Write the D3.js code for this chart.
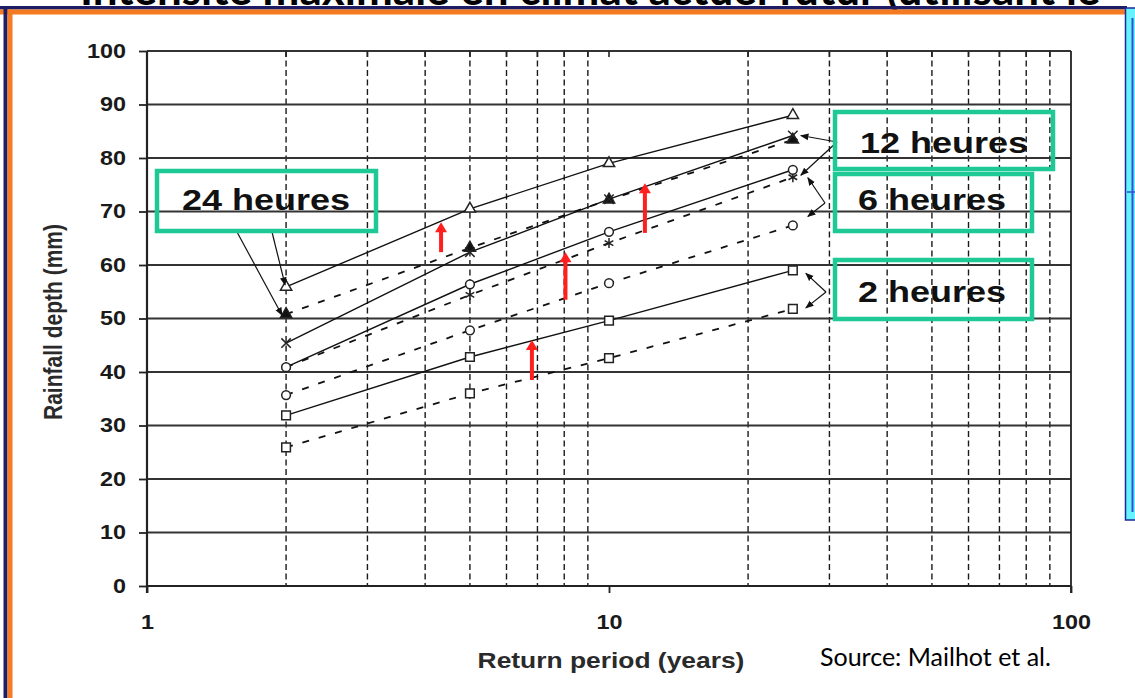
<!DOCTYPE html>
<html><head><meta charset="utf-8">
<script src="https://cdn.jsdelivr.net/npm/d3@7"></script>
<style>body{margin:0;background:#fff;overflow:hidden}svg{display:block}</style>
</head><body>
<svg id="c" width="1135" height="698"></svg>
<script>
// ---------- data ----------
const periods = [2, 5, 10, 25];
const future24  = [55.9, 70.5, 79.0, 88.0];
const present24 = [50.8, 63.2, 72.2, 83.4];
const future12  = [45.4, 62.4, 72.3, 84.2];
const present12 = [40.9, 54.4, 64.1, 76.4];
const future6   = [40.9, 56.4, 66.2, 77.8];
const present6  = [35.7, 47.8, 56.6, 67.4];
const future2   = [31.9, 42.8, 49.6, 59.0];
const present2  = [25.9, 36.0, 42.6, 51.8];
const durationLabels = ["24 heures", "12 heures", "6 heures", "2 heures"];
const yTicks = [0, 10, 20, 30, 40, 50, 60, 70, 80, 90, 100];
const xTicks = [1, 10, 100];
const xMinor = [2, 3, 4, 5, 6, 7, 8, 9, 20, 30, 40, 50, 60, 70, 80, 90];
const redArrowT    = [4.33, 6.81, 8.05, 11.96];
const redArrowFrom = [62.4, 38.5, 53.5, 66.0];
const redArrowTo   = [68.0, 46.0, 62.4, 75.3];
const titleText = "Intensité maximale en climat actuel futur (utilisant le";
const xTitle = "Return period (years)";
const yTitle = "Rainfall depth (mm)";
const sourceText = "Source: Mailhot et al.";

// ---------- setup ----------
const svg = d3.select("#c");
const x = d3.scaleLog().domain([1, 100]).range([147, 1071]);
const y = d3.scaleLinear().domain([0, 100]).range([586, 51]);
const AX = "Liberation Sans, Arial, sans-serif";

// slide frame (title partly hidden above the frame, as in the reference)
svg.append("text").attr("x", 80).attr("y", 5).attr("font-family", "Lato, sans-serif")
  .attr("font-weight", 700).attr("font-size", 44).attr("fill", "#000").text(titleText);
svg.append("rect").attr("x", 0).attr("y", 6).attr("width", 1127).attr("height", 3.5).attr("fill", "#1d1d66");
svg.append("rect").attr("x", 0).attr("y", 9.5).attr("width", 1127).attr("height", 5).attr("fill", "#f47b22");
svg.append("rect").attr("x", 3.5).attr("y", 6).attr("width", 4).attr("height", 692).attr("fill", "#1d1d66");
svg.append("rect").attr("x", 7.5).attr("y", 9.5).attr("width", 5).attr("height", 689).attr("fill", "#f47b22");
svg.append("rect").attr("x", 1125.5).attr("y", 8).attr("width", 11).attr("height", 512)
  .attr("fill", "#66f3ff").attr("stroke", "#1b2a9a").attr("stroke-width", 1.5);
svg.append("line").attr("x1", 1132.5).attr("x2", 1132.5).attr("y1", 18).attr("y2", 512)
  .attr("stroke", "#3350d0").attr("stroke-width", 2);
svg.append("line").attr("x1", 1127).attr("x2", 1135).attr("y1", 192).attr("y2", 192)
  .attr("stroke", "#3350d0").attr("stroke-width", 1.5);

const plot = svg.append("g");

// gridlines
plot.selectAll(".vg").data(xMinor).join("line")
  .attr("x1", d => x(d)).attr("x2", d => x(d)).attr("y1", y(100)).attr("y2", y(0))
  .attr("stroke", "#1a1a1a").attr("stroke-width", 1.4).attr("stroke-dasharray", "6,3.5");
plot.selectAll(".hg").data(yTicks.filter(d => d > 0)).join("line")
  .attr("x1", x(1)).attr("x2", x(100)).attr("y1", d => y(d)).attr("y2", d => y(d))
  .attr("stroke", "#333").attr("stroke-width", 1.8);
plot.append("line").attr("x1", x(100)).attr("x2", x(100)).attr("y1", y(100)).attr("y2", y(0) + 7)
  .attr("stroke", "#222").attr("stroke-width", 1.8);
plot.selectAll(".tt").data(xMinor.concat([10])).join("line")
  .attr("x1", d => x(d)).attr("x2", d => x(d)).attr("y1", y(100)).attr("y2", y(100) + 6)
  .attr("stroke", "#222").attr("stroke-width", 1.6);

// series
const series = [
  {v: future24,  dash: false, m: "triOpen"},
  {v: present24, dash: true,  m: "triFill"},
  {v: future12,  dash: false, m: "times"},
  {v: present12, dash: true,  m: "aster"},
  {v: future6,   dash: false, m: "circ"},
  {v: present6,  dash: true,  m: "circ"},
  {v: future2,   dash: false, m: "sq"},
  {v: present2,  dash: true,  m: "sq"}
];
const line = d3.line().x((d, i) => x(periods[i])).y(d => y(d));
plot.selectAll(".ser").data(series).join("path")
  .attr("d", d => line(d.v)).attr("fill", "none").attr("stroke", "#111")
  .attr("stroke-width", d => d.dash ? 1.8 : 1.4)
  .attr("stroke-dasharray", d => d.dash ? "7,10" : null);

const symFor = {
  triOpen: d3.symbol().type(d3.symbolTriangle).size(55),
  triFill: d3.symbol().type(d3.symbolTriangle).size(55),
  times: d3.symbol().type(d3.symbolTimes || d3.symbolCross).size(60),
  aster: d3.symbol().type(d3.symbolAsterisk || d3.symbolCross).size(70),
  circ: d3.symbol().type(d3.symbolCircle).size(60),
  sq: d3.symbol().type(d3.symbolSquare).size(75)
};
series.forEach(s => {
  plot.selectAll(null).data(s.v).join("path")
    .attr("transform", (d, i) => `translate(${x(periods[i])},${y(d)})`)
    .attr("d", symFor[s.m]())
    .attr("fill", s.m === "triFill" ? "#111" : (s.m === "times" || s.m === "aster") ? "none" : "#fff")
    .attr("stroke", "#222").attr("stroke-width", 1.5);
});

// axes
const yAxis = d3.axisLeft(y).tickValues(yTicks).tickSize(8).tickPadding(21);
const gy = svg.append("g").attr("transform", `translate(${x(1)},0)`).call(yAxis);
gy.select(".domain").attr("stroke", "#222").attr("stroke-width", 2.2).attr("d", `M0,${y(100)}V${y(0) + 7}`);
gy.selectAll(".tick line").attr("stroke", "#222").attr("stroke-width", 1.8);
gy.selectAll(".tick text").attr("font-family", AX).attr("font-weight", 700).attr("font-size", 19.5)
  .attr("fill", "#1a1a1a").attr("x", -21 / 1.2).attr("transform", "scale(1.2,1)");

const xAxis = d3.axisBottom(x).tickValues(xTicks).tickSize(7).tickPadding(22).tickFormat(d3.format("d"));
const gx = svg.append("g").attr("transform", `translate(0,${y(0)})`).call(xAxis);
gx.select(".domain").attr("stroke", "#222").attr("stroke-width", 2.2).attr("d", `M${x(1)},0H${x(100)}`);
gx.selectAll(".tick line").attr("stroke", "#222").attr("stroke-width", 1.8);
gx.selectAll(".tick text").attr("font-family", AX).attr("font-weight", 700).attr("font-size", 19.5)
  .attr("fill", "#1a1a1a").attr("transform", "scale(1.2,1)");

// axis titles
svg.append("text").attr("transform", `translate(611,668) scale(1.2,1)`).attr("text-anchor", "middle")
  .attr("font-family", AX).attr("font-weight", 700).attr("font-size", 22).attr("fill", "#2a2a2a").text(xTitle);
svg.append("text").attr("transform", `translate(62,322) rotate(-90) scale(1,1.2)`).attr("text-anchor", "middle")
  .attr("font-family", AX).attr("font-weight", 700).attr("font-size", 21).attr("fill", "#2a2a2a").text(yTitle);
svg.append("text").attr("x", 820).attr("y", 666).attr("font-family", "Lato, sans-serif")
  .attr("font-size", 25).attr("fill", "#000").text(sourceText);

// red arrows
redArrowT.forEach((t, i) => {
  const ax = x(t), y0 = y(redArrowFrom[i]), y1 = y(redArrowTo[i]);
  svg.append("line").attr("x1", ax).attr("x2", ax).attr("y1", y0).attr("y2", y1 + 8)
    .attr("stroke", "#ff1f1f").attr("stroke-width", 4);
  svg.append("path").attr("d", `M${ax - 6},${y1 + 10}L${ax + 6},${y1 + 10}L${ax},${y1}Z`).attr("fill", "#ff1f1f");
});

// black annotation arrows
const defs = svg.append("defs");
defs.append("marker").attr("id", "ah").attr("viewBox", "0 0 10 10").attr("refX", 9).attr("refY", 5)
  .attr("markerWidth", 7).attr("markerHeight", 7).attr("orient", "auto")
  .append("path").attr("d", "M0,1L10,5L0,9Z").attr("fill", "#111");
const ann = [
  [237, 232, x(2) - 4, y(present24[0]) + 1],
  [272, 232, x(2) - 1, y(future24[0]) - 2],
  [837, 142, x(25) + 8, y(future12[3])],
  [837, 142, x(25) + 8, y(present12[3]) - 2],
  [825, 203, x(25) + 15, y(future6[3]) + 8],
  [825, 203, x(25) + 15, y(present6[3]) - 9],
  [826, 292, x(25) + 13, y(future2[3]) + 3],
  [826, 292, x(25) + 13, y(present2[3]) - 1]
];
ann.forEach(a => {
  svg.append("line").attr("x1", a[0]).attr("y1", a[1]).attr("x2", a[2]).attr("y2", a[3])
    .attr("stroke", "#111").attr("stroke-width", 1.2).attr("marker-end", "url(#ah)");
});

// label boxes
const boxes = [
  {x: 157, y: 171, w: 219, h: 60, cx: 266, by: 210},
  {x: 835, y: 112, w: 218, h: 57, cx: 944, by: 153},
  {x: 835, y: 174, w: 197, h: 57, cx: 932, by: 210},
  {x: 835, y: 260, w: 197, h: 59, cx: 932, by: 302}
];
boxes.forEach((b, i) => {
  svg.append("rect").attr("x", b.x).attr("y", b.y).attr("width", b.w).attr("height", b.h)
    .attr("fill", "none").attr("stroke", "#1fc996").attr("stroke-width", 4.5);
  svg.append("text").attr("transform", `translate(${b.cx},${b.by}) scale(1.2,1)`).attr("text-anchor", "middle")
    .attr("font-family", AX).attr("font-weight", 700).attr("font-size", 30).attr("fill", "#111")
    .text(durationLabels[i]);
});
</script>
</body></html>
